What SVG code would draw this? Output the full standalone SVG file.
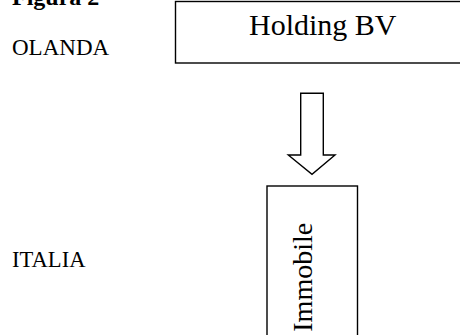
<svg xmlns="http://www.w3.org/2000/svg" width="460" height="335" viewBox="0 0 460 335">
<style>
.t{font-family:"Liberation Serif","Times New Roman",serif;fill:#000}
.box{fill:#fff;stroke:#000;stroke-width:1.4}
</style>
<rect width="460" height="335" fill="#fff"/>
<text class="t" x="12" y="4.5" font-size="24" font-weight="bold">Figura 2</text>
<text class="t" x="12" y="55" font-size="23">OLANDA</text>
<text class="t" x="12" y="267.3" font-size="22.6">ITALIA</text>
<g id="holding">
<rect class="box" x="175.5" y="1.5" width="300" height="61.5"/>
<text class="t" x="249" y="35" font-size="30">Holding BV</text>
</g>
<g id="connectors">
<path class="box" d="M300.7,93.3 H323.3 V155 H335 L312,174.3 L288.3,155 H300.7 Z"/>
</g>
<g id="immobile">
<rect class="box" x="267" y="186" width="90.5" height="160"/>
<text class="t" transform="translate(311.5,331.7) rotate(-90)" font-size="28">Immobile</text>
</g>
</svg>
